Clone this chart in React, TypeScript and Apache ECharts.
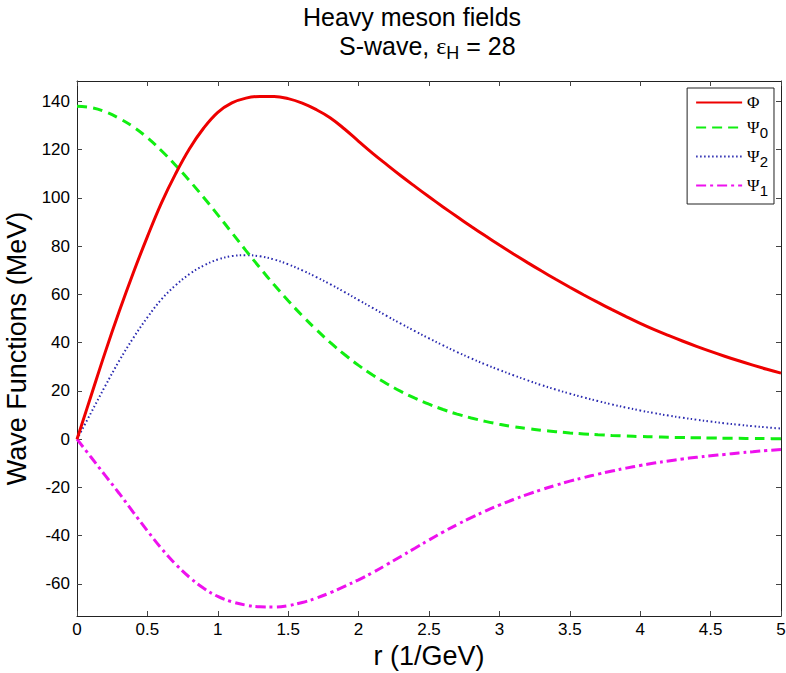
import React, { useEffect, useRef } from "react";
import * as echarts from "echarts";

const rValues = [0, 0.1, 0.2, 0.3, 0.4, 0.5, 0.6, 0.7, 0.8, 0.9, 1.0, 1.1, 1.2, 1.3, 1.4, 1.5, 1.6, 1.7, 1.8, 1.9, 2.0, 2.1, 2.2, 2.3, 2.4, 2.5, 2.6, 2.7, 2.8, 2.9, 3.0, 3.1, 3.2, 3.3, 3.4, 3.5, 3.6, 3.7, 3.8, 3.9, 4.0, 4.1, 4.2, 4.3, 4.4, 4.5, 4.6, 4.7, 4.8, 4.9, 5.0];
const phiValues = [0, 18, 36, 53, 69, 84, 98, 110, 120.5, 129, 135.5, 139.4, 141.4, 142.1, 142.1, 141.2, 139.3, 136.6, 133.2, 128.6, 123.5, 118.5, 113.8, 109.2, 104.8, 100.5, 96.3, 92.2, 88.2, 84.3, 80.5, 76.8, 73.2, 69.7, 66.3, 63, 59.8, 56.7, 53.7, 50.8, 48, 45.4, 43, 40.7, 38.5, 36.4, 34.4, 32.5, 30.7, 29, 27.4];
const psi0Values = [138, 137.5, 135.8, 133, 129.5, 125, 119.6, 113.6, 107.1, 100.2, 93, 85.6, 78.2, 71, 64, 57.4, 51.2, 45.4, 40, 35.1, 30.6, 26.6, 23, 19.8, 17, 14.5, 12.3, 10.4, 8.8, 7.4, 6.2, 5.2, 4.4, 3.7, 3.1, 2.6, 2.2, 1.85, 1.55, 1.3, 1.1, 0.95, 0.8, 0.7, 0.6, 0.5, 0.42, 0.36, 0.3, 0.25, 0.2];
const psi2Values = [0, 11, 22, 32.5, 42, 50.5, 58, 63.8, 68.5, 72, 74.5, 75.9, 76.3, 75.8, 74.5, 72.5, 70, 67.2, 64.2, 61, 57.7, 54.4, 51.1, 47.9, 44.8, 41.8, 38.9, 36.1, 33.5, 31, 28.7, 26.5, 24.4, 22.4, 20.6, 18.9, 17.3, 15.8, 14.4, 13.1, 11.9, 10.8, 9.8, 8.9, 8.1, 7.3, 6.6, 6, 5.4, 4.9, 4.4];
const psi1Values = [0, -7.5, -15, -22.5, -30.3, -38, -45.3, -51.8, -57.3, -61.8, -65.2, -67.4, -68.8, -69.5, -69.6, -69, -67.7, -65.9, -63.6, -61, -58.3, -55.3, -52, -48.6, -45.2, -41.8, -38.5, -35.4, -32.5, -29.8, -27.3, -25, -22.9, -20.9, -19.1, -17.4, -15.9, -14.5, -13.2, -12, -10.9, -9.9, -9, -8.2, -7.5, -6.9, -6.3, -5.7, -5.2, -4.7, -4.3];

const yTicks = [-60, -40, -20, 0, 20, 40, 60, 80, 100, 120, 140];

const FONT = "Liberation Sans, Arial, Helvetica, sans-serif";
const SERIF = "Liberation Serif, Times New Roman, serif";

const pairs = (ys: number[]) => rValues.map((r, i) => [r, ys[i]]);

export default function App() {
  const ref = useRef<HTMLDivElement>(null);
  useEffect(() => {
    if (!ref.current) return;
    const chart = echarts.init(ref.current, null, { renderer: "svg" });
    const axisLineStyle = { color: "#222", width: 1 };
    const tickCommon = { show: true, inside: true, length: 5, lineStyle: { color: "#444", width: 1 } };
    const option: any = {
      animation: false,
      backgroundColor: "#ffffff",
      grid: { left: 77, right: 5, top: 81, bottom: 57, containLabel: false, outerBoundsMode: "none" },
      legend: {
        orient: "vertical",
        right: 12,
        top: 88,
        padding: [6, 6, 6, 8],
        itemWidth: 46,
        itemHeight: 14,
        itemGap: 4,
        borderColor: "#222",
        borderWidth: 1,
        borderRadius: 0,
        backgroundColor: "#ffffff",
        itemStyle: { opacity: 0 },
        data: ["Φ", "Ψ0", "Ψ2", "Ψ1"],
        formatter: (name: string) =>
          name === "Φ" ? "{g|Φ}" : `{g|Ψ}{s|${name.slice(1)}}`,
        textStyle: {
          color: "#000",
          fontFamily: FONT,
          rich: {
            g: { fontFamily: SERIF, fontSize: 17, lineHeight: 16, color: "#000" },
            s: { fontFamily: FONT, fontSize: 15, lineHeight: 16, padding: [10, 0, 0, 0], color: "#000" },
          },
        },
      },
      xAxis: [
        {
          type: "value",
          position: "bottom",
          min: 0,
          max: 5,
          interval: 0.5,
          name: "r (1/GeV)",
          nameLocation: "middle",
          nameGap: 24,
          nameTextStyle: { fontFamily: FONT, fontSize: 27, color: "#000" },
          axisLine: { show: true, onZero: false, lineStyle: axisLineStyle },
          axisTick: tickCommon,
          axisLabel: { fontFamily: FONT, fontSize: 17, color: "#000", margin: 5, showMinLabel: true, showMaxLabel: true },
          splitLine: { show: false },
        },
        {
          type: "value",
          position: "top",
          min: 0,
          max: 5,
          interval: 0.5,
          axisLine: { show: true, onZero: false, lineStyle: axisLineStyle },
          axisTick: tickCommon,
          axisLabel: { show: false },
          splitLine: { show: false },
        },
      ],
      yAxis: [
        {
          type: "value",
          position: "left",
          min: -73.3,
          max: 148.5,
          name: "Wave Functions (MeV)",
          nameLocation: "middle",
          nameGap: 30,
          nameTextStyle: { fontFamily: FONT, fontSize: 27, color: "#000" },
          axisLine: { show: true, onZero: false, lineStyle: axisLineStyle },
          axisTick: { ...tickCommon, customValues: yTicks },
          axisLabel: { fontFamily: FONT, fontSize: 17, color: "#000", margin: 7, customValues: yTicks },
          splitLine: { show: false },
        },
        {
          type: "value",
          position: "right",
          min: -73.3,
          max: 148.5,
          axisLine: { show: true, onZero: false, lineStyle: axisLineStyle },
          axisTick: { ...tickCommon, customValues: yTicks },
          axisLabel: { show: false, customValues: yTicks },
          splitLine: { show: false },
        },
      ],
      graphic: [
        {
          type: "text",
          style: {
            x: 412,
            y: 17,
            text: "Heavy meson fields",
            fontFamily: FONT,
            fontSize: 25,
            lineHeight: 24,
            fill: "#000",
            align: "center",
            verticalAlign: "middle",
          },
        },
        {
          type: "text",
          style: {
            x: 339,
            y: 46,
            text: "{a|S-wave, }{e|ε}{s|H}{a| = 28}",
            fontFamily: FONT,
            fontSize: 25,
            fill: "#000",
            align: "left",
            verticalAlign: "middle",
            rich: {
              a: { fontFamily: FONT, fontSize: 25, lineHeight: 26, fill: "#000" },
              e: { fontFamily: SERIF, fontSize: 24, lineHeight: 26, fill: "#000" },
              s: { fontFamily: FONT, fontSize: 18, lineHeight: 18, padding: [13, 0, 0, 0], fill: "#000" },
            },
          },
        },
      ],
      series: [
        {
          name: "Φ",
          type: "line",
          data: pairs(phiValues),
          smooth: 0.4,
          symbol: "none",
          lineStyle: { color: "#ee0000", width: 3 },
          itemStyle: { color: "#ee0000" },
          z: 4,
        },
        {
          name: "Ψ0",
          type: "line",
          data: pairs(psi0Values),
          smooth: 0.4,
          symbol: "none",
          lineStyle: { color: "#11ee11", width: 3, type: [10, 6] },
          itemStyle: { color: "#11ee11" },
          z: 3,
        },
        {
          name: "Ψ2",
          type: "line",
          data: pairs(psi2Values),
          smooth: 0.4,
          symbol: "none",
          lineStyle: { color: "#2a2ab0", width: 2, type: [1.5, 2.5] },
          itemStyle: { color: "#2a2ab0" },
          z: 2,
        },
        {
          name: "Ψ1",
          type: "line",
          data: pairs(psi1Values),
          smooth: 0.4,
          symbol: "none",
          lineStyle: { color: "#ee11ee", width: 3, type: [10, 4, 3, 4] },
          itemStyle: { color: "#ee11ee" },
          z: 2,
        },
      ],
    };
    chart.setOption(option);
    return () => chart.dispose();
  }, []);
  return (
    <div
      ref={ref}
      style={{ position: "fixed", left: 0, top: 0, width: 786, height: 673, background: "#fff" }}
    />
  );
}
